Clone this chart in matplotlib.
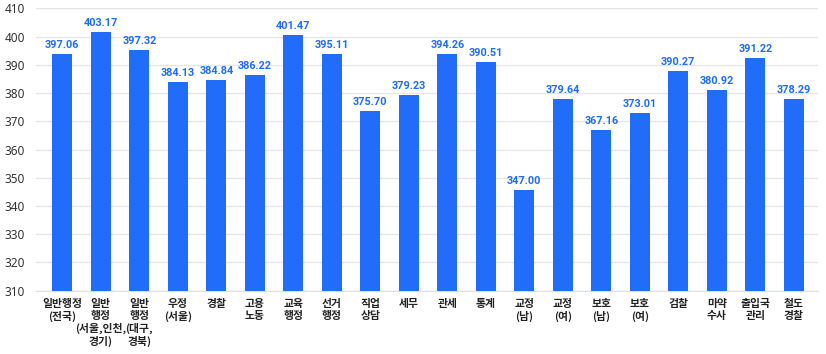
import matplotlib
matplotlib.use("Agg")
import matplotlib.pyplot as plt
import numpy as np

plt.rcParams['font.family'] = ['Noto Sans CJK KR', 'DejaVu Sans']

categories = ["일반행정\n(전국)", "일반\n행정\n(서울,인천,\n경기)", "일반\n행정\n(대구,\n경북)",
              "우정\n(서울)", "경찰", "고용\n노동", "교육\n행정", "선거\n행정", "직업\n상담",
              "세무", "관세", "통계", "교정\n(남)", "교정\n(여)", "보호\n(남)", "보호\n(여)",
              "검찰", "마약\n수사", "출입국\n관리", "철도\n경찰"]
# bar heights as drawn in the picture
bar_values = [393.9, 401.7, 395.3, 383.9, 384.6, 386.4, 400.6, 393.9, 373.7, 379.3,
              393.9, 391.0, 345.6, 377.9, 367.0, 372.9, 387.8, 381.1, 392.4, 377.9]
# printed value labels
label_values = ["397.06", "403.17", "397.32", "384.13", "384.84", "386.22", "401.47",
                "395.11", "375.70", "379.23", "394.26", "390.51", "347.00", "379.64",
                "367.16", "373.01", "390.27", "380.92", "391.22", "378.29"]
y_ticks = list(range(310, 411, 10))

bar_color = "#216cf9"

fig = plt.figure(figsize=(8.26, 3.54), dpi=100)
ax = fig.add_axes([0.044, 0.179, 0.946, 0.797])

x = np.arange(len(categories))
ax.bar(x, np.array(bar_values) - 310, bottom=310, width=0.52, color=bar_color, zorder=3)

for xi, yv, lab in zip(x, bar_values, label_values):
    ax.annotate(lab, (xi, yv), xytext=(0, 3), textcoords="offset points",
                ha="center", va="bottom", fontsize=7.8, fontweight="bold",
                color=bar_color, family=['Roboto'])

ax.set_ylim(310, 410)
ax.set_xlim(-0.675, 19.62)
ax.set_yticks(y_ticks)
ax.set_yticklabels([str(t) for t in y_ticks], fontsize=8.5, color="#333333", family=['Noto Sans'])
ax.set_xticks(x)
ax.set_xticklabels(categories, fontsize=7.8, fontweight="bold", color="#222222",
                   linespacing=1.2, va="top")
ax.tick_params(axis="both", length=0)
ax.tick_params(axis="x", pad=6)
ax.tick_params(axis="y", pad=8)
ax.grid(axis="y", color="#e6e6e6", linewidth=1, zorder=0)
for s in ["top", "right", "left"]:
    ax.spines[s].set_visible(False)
ax.spines["bottom"].set_color("#e0e0e0")

fig.savefig("out.png", dpi=100)
